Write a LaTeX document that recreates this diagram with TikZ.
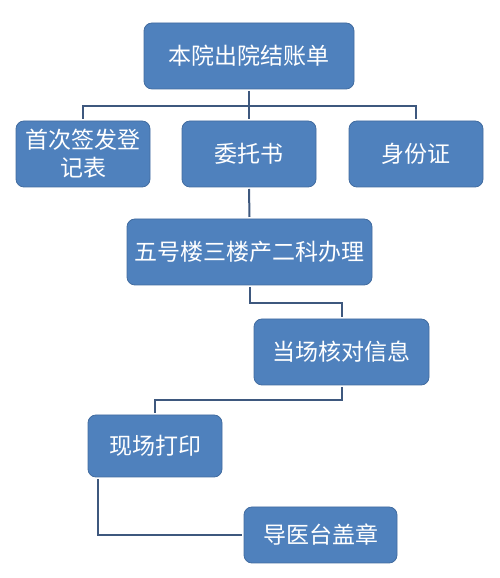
\documentclass[tikz,border=0pt]{standalone}
\usepackage{fontspec}
\newfontfamily\cjk{Noto Sans CJK SC}
\usetikzlibrary{positioning}
\definecolor{boxblue}{RGB}{79, 129, 189}
\definecolor{boxedge}{RGB}{66, 108, 160}
\definecolor{linkblue}{RGB}{62, 88, 126}

\begin{document}
\begin{tikzpicture}[x=1pt, y=1pt,
  flowbox/.style={draw=boxedge, fill=boxblue, rounded corners=8pt, text=white,
    font=\cjk\fontsize{23}{28}\selectfont, align=center, inner sep=0pt,
    outer sep=2pt, line width=0.8pt, minimum height=66pt},
  link/.style={draw=linkblue, line width=2pt}]
  \useasboundingbox (0, 0) rectangle (500, 578);

  % Top
  \node[flowbox, minimum width=210pt] (jiezhang) at (249, 522) {本院出院结账单};

  % Three documents
  \node[flowbox, minimum width=134pt] (shouci) at (83, 424) {首次签发登\\记表};
  \node[flowbox, minimum width=134pt] (weituo) at (249, 424) {委托书};
  \node[flowbox, minimum width=134pt] (shenfen) at (416, 424) {身份证};

  % Steps
  \node[flowbox, minimum width=245pt] (banli) at (249.5, 326) {五号楼三楼产二科办理};
  \node[flowbox, minimum width=175pt] (hedui) at (341.5, 226) {当场核对信息};
  \node[flowbox, minimum width=134pt, minimum height=62pt] (dayin) at (155, 132) {现场打印};
  \node[flowbox, minimum width=153pt, minimum height=56pt] (gaizhang) at (320.5, 43) {导医台盖章};

  % Connectors
  \coordinate (bus) at (249, 472);
  \draw[link] (jiezhang.south) -- (bus);
  \draw[link] (shouci.north) |- (bus) -| (shenfen.north);
  \draw[link] (bus) -- (weituo.north);
  \draw[link] (weituo.south) -- (banli.north);
  \draw[link] (banli.south) -- ++(0, -16) -| (hedui.north);
  \draw[link] (hedui.south) -- ++(0, -13) -| (dayin.north);
  \draw[link] ([xshift=12pt]dayin.south west) |- (gaizhang.west);
\end{tikzpicture}
\end{document}
